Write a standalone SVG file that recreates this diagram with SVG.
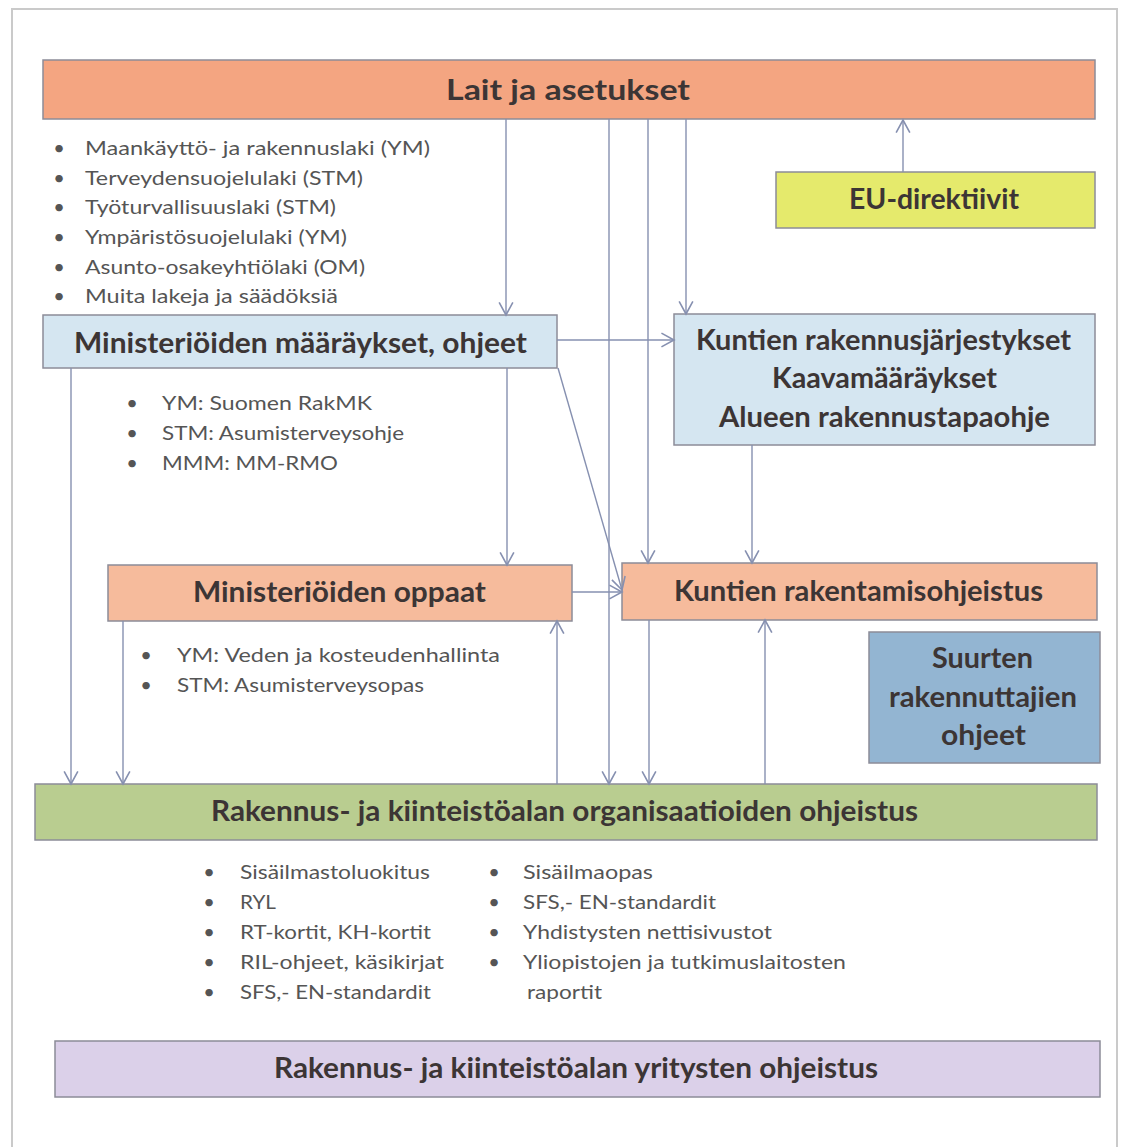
<svg xmlns="http://www.w3.org/2000/svg" width="1133" height="1147" viewBox="0 0 1133 1147" xml:space="preserve">
<defs>
<marker id="arr" markerUnits="userSpaceOnUse" markerWidth="16" markerHeight="16" refX="12" refY="7" orient="auto" viewBox="0 0 14 14">
<path d="M1,1 L12,7 L1,13" fill="none" stroke="#8690b0" stroke-width="1.4"/>
</marker>
</defs>
<style>
.box{stroke:#8c8c98;stroke-width:1.5}
.t{font-family:Lato,"Open Sans","Liberation Sans",sans-serif;font-weight:bold;fill:#3c3535;font-size:28px}
.b{font-family:Lato,"Open Sans","Liberation Sans",sans-serif;fill:#555;font-size:20px}
.c line{stroke:#8690b0;stroke-width:1.4;marker-end:url(#arr)}
</style>
<rect x="0" y="0" width="1133" height="1147" fill="#ffffff"/>
<rect x="12" y="9" width="1105" height="1160" fill="none" stroke="#cacaca" stroke-width="2"/>

<g id="lait">
<rect class="box" x="43" y="60" width="1052" height="59" fill="#f4a581"/>
<text class="t" x="446" y="100" font-size="30" textLength="244" lengthAdjust="spacingAndGlyphs">Lait ja asetukset</text>
<text class="b" x="59" y="155" text-anchor="middle">•</text>
<text class="b" x="85" y="155" textLength="345" lengthAdjust="spacingAndGlyphs">Maankäyttö- ja rakennuslaki  (YM)</text>
<text class="b" x="59" y="185" text-anchor="middle">•</text>
<text class="b" x="85" y="185" textLength="278" lengthAdjust="spacingAndGlyphs">Terveydensuojelulaki  (STM)</text>
<text class="b" x="59" y="214" text-anchor="middle">•</text>
<text class="b" x="85" y="214" textLength="251" lengthAdjust="spacingAndGlyphs">Työturvallisuuslaki  (STM)</text>
<text class="b" x="59" y="244" text-anchor="middle">•</text>
<text class="b" x="85" y="244" textLength="262" lengthAdjust="spacingAndGlyphs">Ympäristösuojelulaki  (YM)</text>
<text class="b" x="59" y="274" text-anchor="middle">•</text>
<text class="b" x="85" y="274" textLength="280" lengthAdjust="spacingAndGlyphs">Asunto-osakeyhtiölaki (OM)</text>
<text class="b" x="59" y="303" text-anchor="middle">•</text>
<text class="b" x="85" y="303" textLength="253" lengthAdjust="spacingAndGlyphs">Muita lakeja ja säädöksiä</text>
</g>

<g id="eu">
<rect class="box" x="776" y="172" width="319" height="56" fill="#e5ea6c"/>
<text class="t" x="849" y="209" textLength="170" lengthAdjust="spacingAndGlyphs">EU-direktiivit</text>
</g>

<g id="min-maaraykset">
<rect class="box" x="43" y="315" width="514" height="53" fill="#d5e6f1"/>
<text class="t" x="74" y="353" textLength="453" lengthAdjust="spacingAndGlyphs">Ministeriöiden määräykset, ohjeet</text>
<text class="b" x="132" y="410" text-anchor="middle">•</text>
<text class="b" x="162" y="410" textLength="210" lengthAdjust="spacingAndGlyphs">YM:  Suomen RakMK</text>
<text class="b" x="132" y="440" text-anchor="middle">•</text>
<text class="b" x="162" y="440" textLength="242" lengthAdjust="spacingAndGlyphs">STM: Asumisterveysohje</text>
<text class="b" x="132" y="470" text-anchor="middle">•</text>
<text class="b" x="162" y="470" textLength="176" lengthAdjust="spacingAndGlyphs">MMM: MM-RMO</text>
</g>

<g id="kuntien-jarjestykset">
<rect class="box" x="674" y="314" width="421" height="131" fill="#d5e6f1"/>
<text class="t" x="696" y="350" textLength="375" lengthAdjust="spacingAndGlyphs">Kuntien rakennusjärjestykset</text>
<text class="t" x="772" y="388" textLength="225" lengthAdjust="spacingAndGlyphs">Kaavamääräykset</text>
<text class="t" x="719" y="427" textLength="331" lengthAdjust="spacingAndGlyphs">Alueen rakennustapaohje</text>
</g>

<g id="min-oppaat">
<rect class="box" x="108" y="565" width="464" height="56" fill="#f6bb9c"/>
<text class="t" x="193" y="602" textLength="293" lengthAdjust="spacingAndGlyphs">Ministeriöiden oppaat</text>
<text class="b" x="146" y="662" text-anchor="middle">•</text>
<text class="b" x="177" y="662" textLength="323" lengthAdjust="spacingAndGlyphs">YM:  Veden ja kosteudenhallinta</text>
<text class="b" x="146" y="692" text-anchor="middle">•</text>
<text class="b" x="177" y="692" textLength="247" lengthAdjust="spacingAndGlyphs">STM: Asumisterveysopas</text>
</g>

<g id="kuntien-rakentamis">
<rect class="box" x="622" y="563" width="475" height="57" fill="#f6bb9c"/>
<text class="t" x="674" y="601" textLength="369" lengthAdjust="spacingAndGlyphs">Kuntien rakentamisohjeistus</text>
</g>

<g id="suurten">
<rect class="box" x="869" y="632" width="231" height="131" fill="#93b5d2"/>
<text class="t" x="932" y="668" textLength="101" lengthAdjust="spacingAndGlyphs">Suurten</text>
<text class="t" x="889" y="707" textLength="188" lengthAdjust="spacingAndGlyphs">rakennuttajien</text>
<text class="t" x="941" y="745" textLength="85" lengthAdjust="spacingAndGlyphs">ohjeet</text>
</g>

<g id="organisaatiot">
<rect class="box" x="35" y="784" width="1062" height="56" fill="#b9cd90"/>
<text class="t" x="211" y="821" textLength="707" lengthAdjust="spacingAndGlyphs">Rakennus-  ja kiinteistöalan organisaatioiden  ohjeistus</text>
<text class="b" x="209" y="879" text-anchor="middle">•</text>
<text class="b" x="240" y="879" textLength="190" lengthAdjust="spacingAndGlyphs">Sisäilmastoluokitus</text>
<text class="b" x="209" y="909" text-anchor="middle">•</text>
<text class="b" x="240" y="909" textLength="36" lengthAdjust="spacingAndGlyphs">RYL</text>
<text class="b" x="209" y="939" text-anchor="middle">•</text>
<text class="b" x="240" y="939" textLength="191" lengthAdjust="spacingAndGlyphs">RT-kortit, KH-kortit</text>
<text class="b" x="209" y="969" text-anchor="middle">•</text>
<text class="b" x="240" y="969" textLength="204" lengthAdjust="spacingAndGlyphs">RIL-ohjeet, käsikirjat</text>
<text class="b" x="209" y="999" text-anchor="middle">•</text>
<text class="b" x="240" y="999" textLength="191" lengthAdjust="spacingAndGlyphs">SFS,- EN-standardit</text>
<text class="b" x="494" y="879" text-anchor="middle">•</text>
<text class="b" x="523" y="879" textLength="130" lengthAdjust="spacingAndGlyphs">Sisäilmaopas</text>
<text class="b" x="494" y="909" text-anchor="middle">•</text>
<text class="b" x="523" y="909" textLength="193" lengthAdjust="spacingAndGlyphs">SFS,- EN-standardit</text>
<text class="b" x="494" y="939" text-anchor="middle">•</text>
<text class="b" x="523" y="939" textLength="249" lengthAdjust="spacingAndGlyphs">Yhdistysten  nettisivustot</text>
<text class="b" x="494" y="969" text-anchor="middle">•</text>
<text class="b" x="523" y="969" textLength="323" lengthAdjust="spacingAndGlyphs">Yliopistojen ja tutkimuslaitosten</text>
<text class="b" x="527" y="999" textLength="75" lengthAdjust="spacingAndGlyphs">raportit</text>
</g>

<g id="yritykset">
<rect class="box" x="55" y="1041" width="1045" height="56" fill="#dbd0e9"/>
<text class="t" x="274" y="1078" textLength="604" lengthAdjust="spacingAndGlyphs">Rakennus-  ja kiinteistöalan yritysten ohjeistus</text>
</g>

<g id="connectors" class="c">
<line x1="506" y1="119" x2="506" y2="315"/>
<line x1="609" y1="119" x2="609" y2="784"/>
<line x1="648" y1="119" x2="648" y2="563"/>
<line x1="686" y1="119" x2="686" y2="314"/>
<line x1="903" y1="172" x2="903" y2="120"/>
<line x1="557" y1="340" x2="674" y2="340"/>
<line x1="507" y1="368" x2="507" y2="565"/>
<line x1="71" y1="368" x2="71" y2="784"/>
<line x1="558" y1="368" x2="622" y2="590"/>
<line x1="123" y1="621" x2="123" y2="784"/>
<line x1="572" y1="592" x2="622" y2="592"/>
<line x1="557" y1="784" x2="557" y2="621"/>
<line x1="752" y1="445" x2="752" y2="563"/>
<line x1="649" y1="620" x2="649" y2="784"/>
<line x1="765" y1="784" x2="765" y2="620"/>
</g>
</svg>
